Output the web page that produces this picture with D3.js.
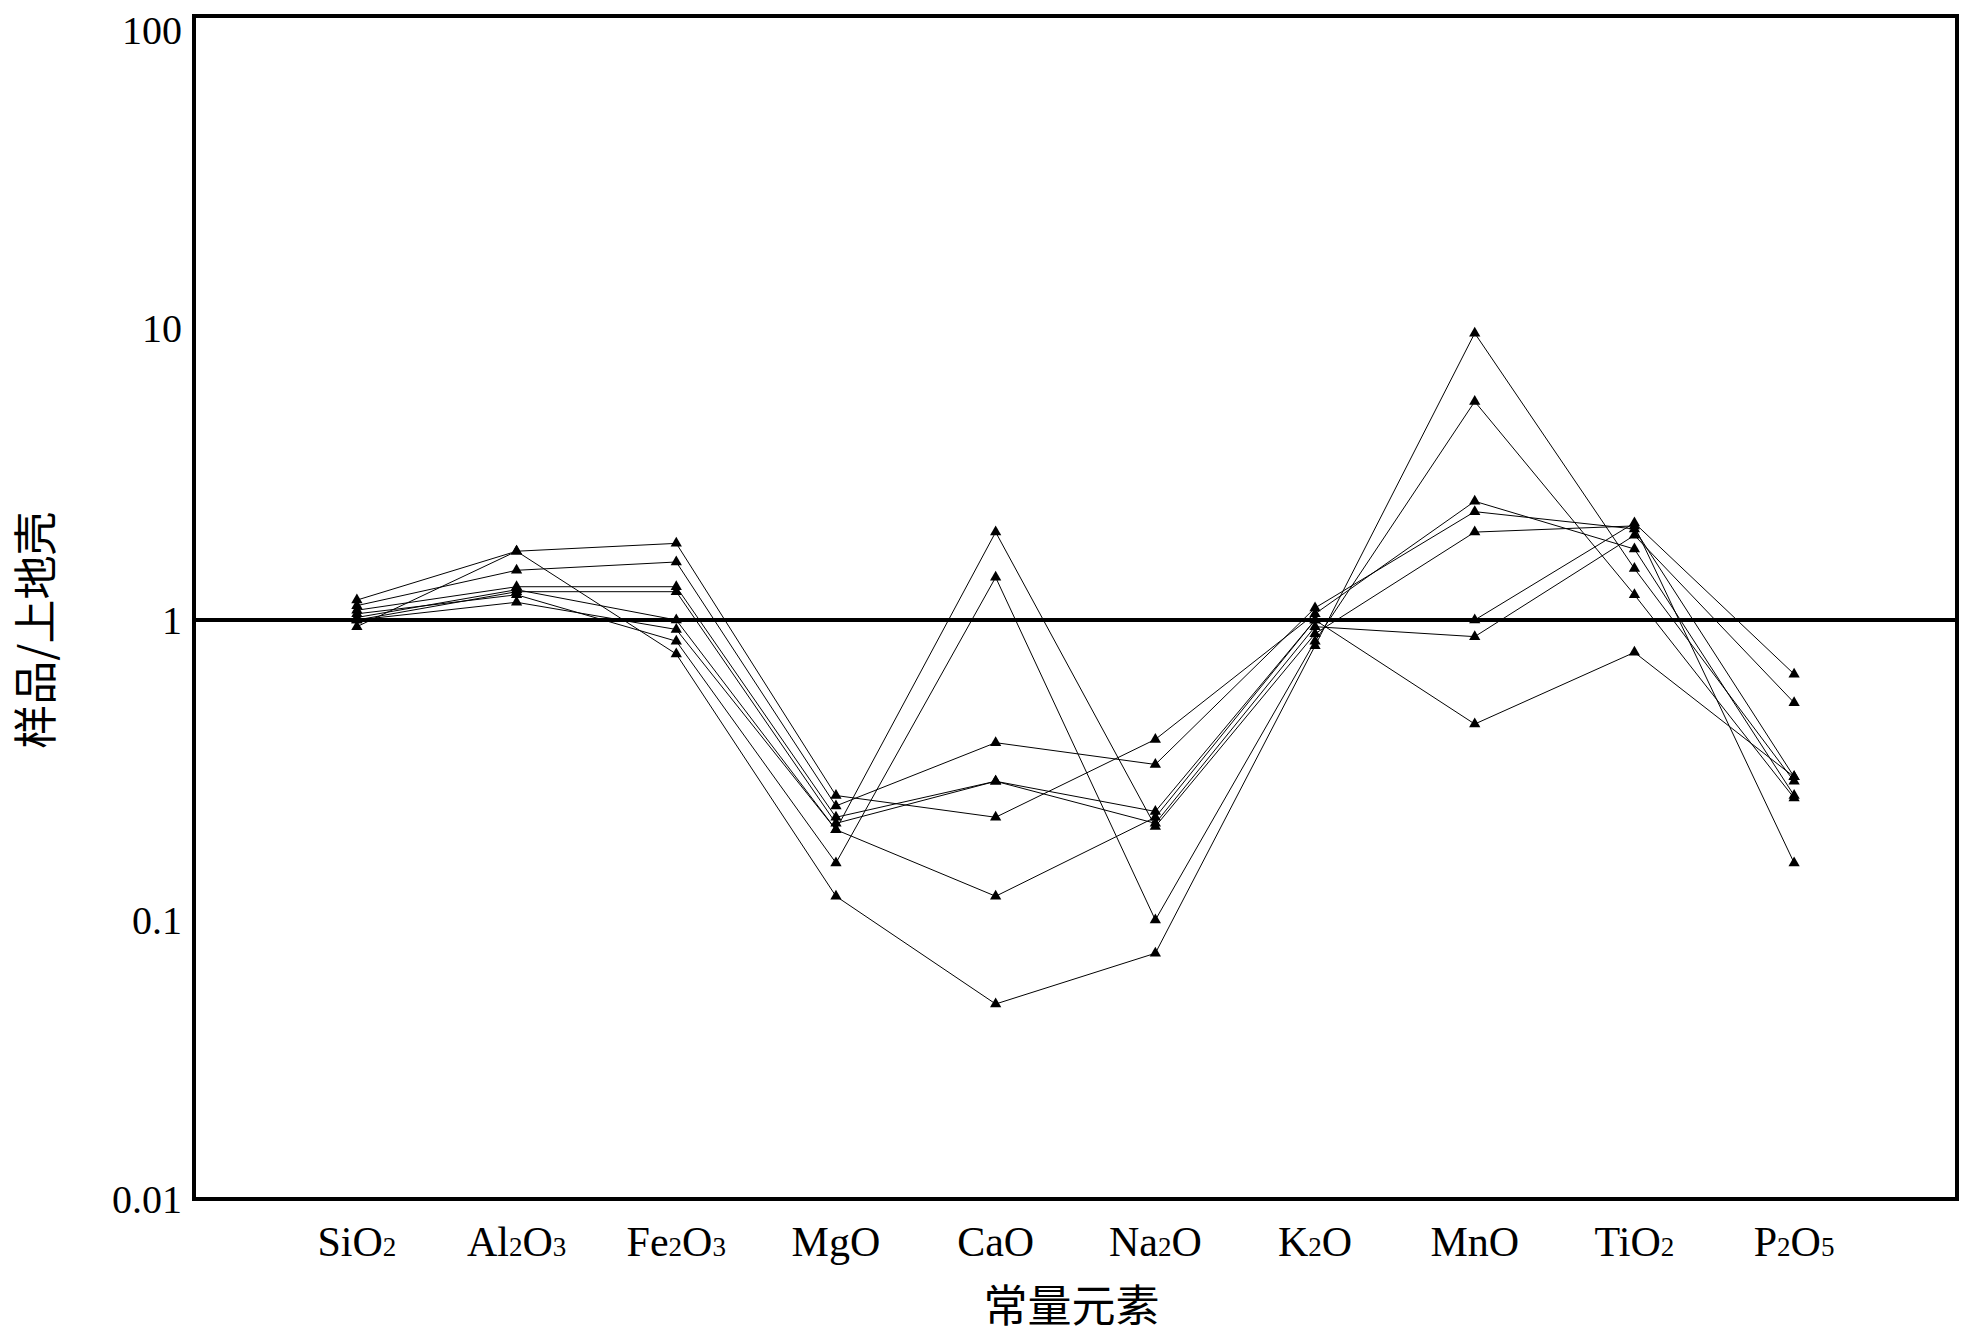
<!DOCTYPE html>
<html><head><meta charset="utf-8">
<script src="https://cdn.jsdelivr.net/npm/d3@7"></script>
<style>body{margin:0;background:#fff}</style>
</head><body><div id="chart"></div>
<script>
var width = 1963, height = 1343;
var margin = {top: 16, left: 194, right: 6, bottom: 144};

var elements = ["SiO2","Al2O3","Fe2O3","MgO","CaO","Na2O","K2O","MnO","TiO2","P2O5"];
var yTicks = [0.01, 0.1, 1, 10, 100];
var yTickLabels = ["0.01","0.1","1","10","100"];

var s1 = [1.17, 1.72, 1.83, 0.26, 0.22, 0.40, 1.05, 2.55, 1.75, 0.26];
var s2 = [1.12, 1.48, 1.58, 0.24, 0.39, 0.33, 1.10, 2.35, 2.05, 0.30];
var s3 = [1.08, 1.30, 1.30, 0.22, 0.29, 0.23, 1.00, 1.00, 2.15, 0.66];
var s4 = [1.00, 1.25, 1.25, 0.21, 0.29, 0.21, 0.95, 0.88, 1.95, 0.53];
var s5 = [0.95, 1.72, 0.77, 0.12, 0.05, 0.076, 0.82, 9.6, 1.50, 0.29];
var s6 = [1.05, 1.22, 0.85, 0.155, 1.40, 0.10, 0.85, 5.6, 1.22, 0.255];
var s7 = [1.00, 1.15, 0.93, 0.20, 2.00, 0.205, 0.90, 2.00, 2.10, 0.155];
var s8 = [1.02, 1.27, 1.00, 0.20, 0.12, 0.22, 1.00, 0.45, 0.78, 0.30];
var series = [s1, s2, s3, s4, s5, s6, s7, s8];

var svg = d3.select("#chart").append("svg")
  .attr("width", width).attr("height", height)
  .style("font-family", "'Liberation Serif', 'Times New Roman', serif");

var xScale = d3.scalePoint()
  .domain(elements)
  .range([margin.left, width - margin.right])
  .padding(1.02);

// the printed axis is slightly uneven per decade
var yScale = d3.scaleLog()
  .domain(yTicks)
  .range([height - margin.bottom, 920, 620, 328, margin.top]);

var line = d3.line()
  .x(function(d, i) { return xScale(elements[i]); })
  .y(function(d) { return yScale(d); });

svg.selectAll(".series")
  .data(series)
  .enter().append("path")
    .attr("d", line)
    .attr("fill", "none")
    .attr("stroke", "#000")
    .attr("stroke-width", 1);

series.forEach(function(s) {
  svg.selectAll(null).data(s).enter().append("path")
    .attr("d", d3.symbol().type(d3.symbolTriangle).size(55))
    .attr("transform", function(d, i) { return `translate(${xScale(elements[i])},${yScale(d)})`; })
    .attr("fill", "#000");
});

// reference line at 1
svg.append("line")
  .attr("x1", margin.left).attr("x2", width - margin.right)
  .attr("y1", yScale(1)).attr("y2", yScale(1))
  .attr("stroke", "#000").attr("stroke-width", 4);

svg.append("rect")
  .attr("x", margin.left).attr("y", margin.top)
  .attr("width", width - margin.left - margin.right)
  .attr("height", height - margin.top - margin.bottom)
  .attr("fill", "none").attr("stroke", "#000").attr("stroke-width", 4);

svg.selectAll(".ytick")
  .data(yTicks)
  .enter().append("text")
    .attr("x", margin.left - 12)
    .attr("y", function(d) { return Math.max(yScale(d), 30); })
    .attr("dy", "0.35em")
    .attr("text-anchor", "end")
    .attr("font-size", 40)
    .text(function(d, i) { return yTickLabels[i]; });

var xt = svg.selectAll(".xtick")
  .data(elements)
  .enter().append("text")
    .attr("x", function(d) { return xScale(d); })
    .attr("y", 1256)
    .attr("text-anchor", "middle")
    .attr("font-size", 42);
xt.each(function(d) {
  var t = d3.select(this);
  d.match(/[A-Za-z]+|\d+/g).forEach(function(part) {
    if (/\d/.test(part)) {
      t.append("tspan").attr("font-size", 27).text(part);
    } else {
      t.append("tspan").text(part);
    }
  });
});

svg.append("text")
  .attr("x", (margin.left + width - margin.right) / 2 - 4)
  .attr("y", 1322)
  .attr("text-anchor", "middle")
  .attr("font-size", 44)
  .attr("font-family", "'Noto Sans CJK SC', sans-serif")
  .text("常量元素");

svg.append("text")
  .attr("transform", "translate(52,630) rotate(-90)")
  .attr("text-anchor", "middle")
  .attr("font-size", 44)
  .attr("font-family", "'Noto Sans CJK SC', sans-serif")
  .text("样品/上地壳");
</script>
</body></html>
